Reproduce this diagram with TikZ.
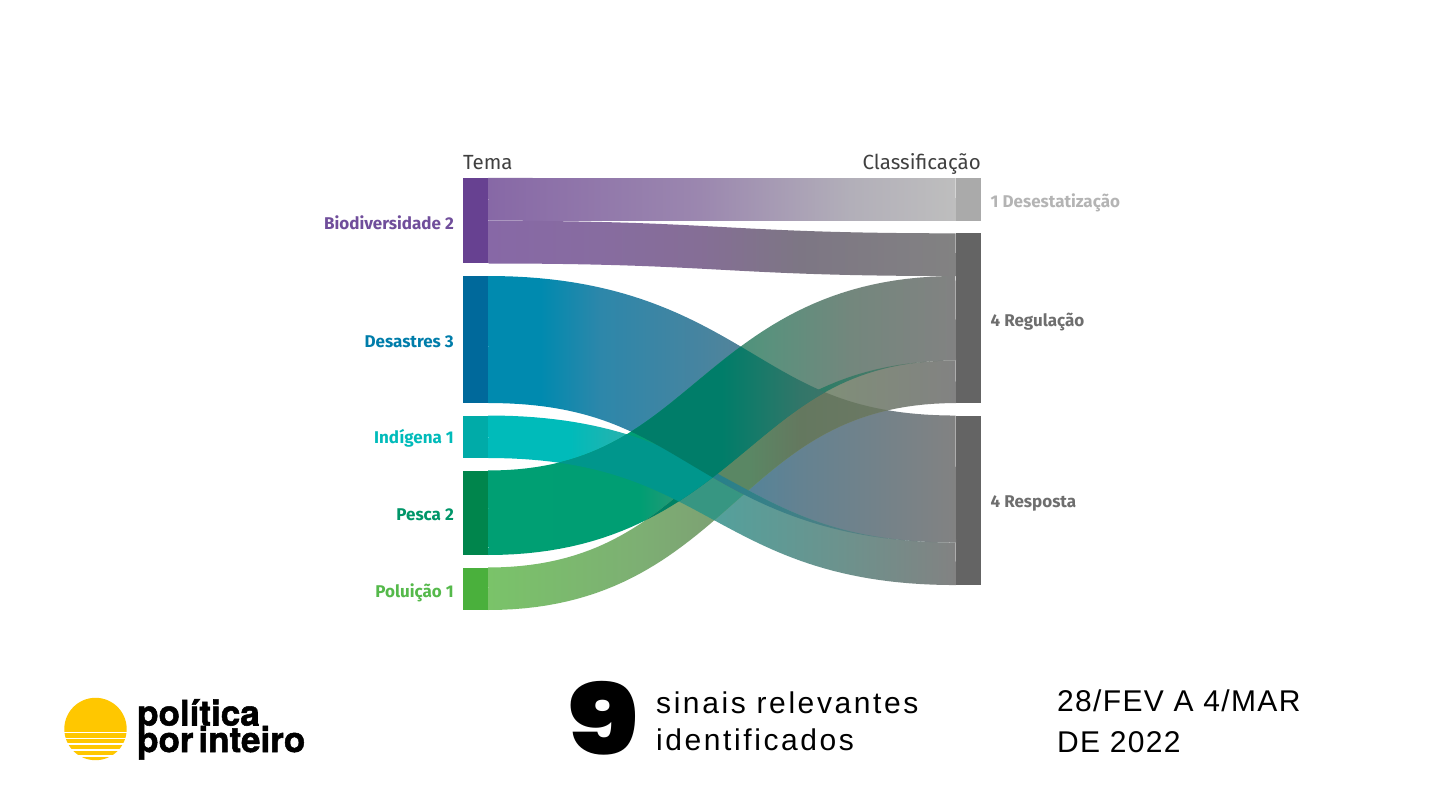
\documentclass[tikz,border=0pt]{standalone}
\usepackage{fontspec}
\usetikzlibrary{calc}
\setmainfont{Liberation Sans}
\newfontfamily\labelfont{Fira Sans}
\newfontfamily\logofont[FakeBold=1.5,WordSpace=0.5]{TeX Gyre Heros Bold}
\newfontfamily\ninefont[UprightFont=* Black]{Poppins}
\definecolor{bioDark}{RGB}{103,65,145}
\definecolor{bioText}{RGB}{112,78,155}
\definecolor{desDark}{RGB}{0,105,155}
\definecolor{desText}{RGB}{0,125,170}
\definecolor{indDark}{RGB}{0,171,168}
\definecolor{indText}{RGB}{0,187,186}
\definecolor{pesDark}{RGB}{0,133,76}
\definecolor{pesText}{RGB}{0,150,105}
\definecolor{polDark}{RGB}{74,176,60}
\definecolor{polText}{RGB}{85,185,75}
\definecolor{grayBar}{RGB}{100,100,100}
\definecolor{grayText}{RGB}{110,110,110}
\definecolor{grayBarLight}{RGB}{170,170,170}
\definecolor{grayTextLight}{RGB}{180,180,180}
\definecolor{sunYellow}{RGB}{255,199,0}
% ribbon gradients, 25bp is the left end of a ribbon and 75bp the right end
\pgfdeclarehorizontalshading{bioTop}{100bp}{rgb(0bp)=(.529,.408,.651);rgb(25bp)=(.529,.408,.651);rgb(47.6bp)=(.608,.529,.686);rgb(63.7bp)=(.698,.686,.725);rgb(75bp)=(.745,.745,.745);rgb(100bp)=(.745,.745,.745)}
\pgfdeclarehorizontalshading{bioLow}{100bp}{rgb(0bp)=(.529,.408,.651);rgb(25bp)=(.529,.408,.651);rgb(37bp)=(.529,.424,.627);rgb(47.6bp)=(.522,.431,.588);rgb(58.3bp)=(.490,.463,.518);rgb(75bp)=(.51,.51,.51);rgb(100bp)=(.51,.51,.51)}
\pgfdeclarehorizontalshading{desGrad}{100bp}{rgb(0bp)=(0,.541,.686);rgb(30.6bp)=(0,.541,.686);rgb(37bp)=(.176,.529,.667);rgb(47.6bp)=(.275,.518,.627);rgb(58.3bp)=(.392,.51,.569);rgb(75bp)=(.51,.51,.51);rgb(100bp)=(.51,.51,.51)}
\pgfdeclarehorizontalshading{indGrad}{100bp}{rgb(0bp)=(0,.733,.729);rgb(33.8bp)=(0,.733,.729);rgb(41.2bp)=(.196,.686,.667);rgb(50bp)=(.333,.627,.608);rgb(63.7bp)=(.431,.569,.549);rgb(75bp)=(.51,.51,.51);rgb(100bp)=(.51,.51,.51)}
\pgfdeclarehorizontalshading{pesGrad}{100bp}{rgb(0bp)=(0,.627,.451);rgb(41.2bp)=(0,.62,.451);rgb(47.6bp)=(.235,.588,.471);rgb(55.1bp)=(.353,.569,.49);rgb(63.7bp)=(.451,.529,.49);rgb(75bp)=(.51,.51,.51);rgb(100bp)=(.51,.51,.51)}
\pgfdeclarehorizontalshading{polGrad}{100bp}{rgb(0bp)=(.478,.765,.412);rgb(25bp)=(.478,.765,.412);rgb(41.2bp)=(.49,.686,.451);rgb(53bp)=(.49,.608,.451);rgb(63.7bp)=(.502,.549,.478);rgb(75bp)=(.51,.51,.51);rgb(100bp)=(.51,.51,.51)}
% where two ribbons cross
\pgfdeclarehorizontalshading{desPes}{100bp}{rgb(0bp)=(0,.49,.412);rgb(50bp)=(0,.49,.412);rgb(58.3bp)=(.196,.463,.412);rgb(75bp)=(.4,.44,.42);rgb(100bp)=(.4,.44,.42)}
\pgfdeclarehorizontalshading{indPes}{100bp}{rgb(0bp)=(0,.588,.549);rgb(50bp)=(0,.588,.549);rgb(100bp)=(.3,.5,.5)}
\pgfdeclarehorizontalshading{indPol}{100bp}{rgb(0bp)=(.216,.588,.51);rgb(100bp)=(.216,.588,.51)}
\pgfdeclarehorizontalshading{desPol}{100bp}{rgb(0bp)=(.353,.529,.392);rgb(53bp)=(.353,.529,.392);rgb(58.3bp)=(.392,.471,.373);rgb(75bp)=(.45,.47,.41);rgb(100bp)=(.45,.47,.41)}
\pgfdeclarehorizontalshading{pesPol}{100bp}{rgb(0bp)=(0,.51,.392);rgb(50bp)=(0,.51,.392);rgb(75bp)=(.42,.46,.42);rgb(100bp)=(.42,.46,.42)}
\pgfdeclarehorizontalshading{desInd}{100bp}{rgb(0bp)=(.16,.5,.54);rgb(50bp)=(.16,.5,.54);rgb(75bp)=(.45,.5,.5);rgb(100bp)=(.45,.5,.5)}
\tikzset{
  bar/.style={draw=none,minimum width=25pt,inner sep=0pt,outer sep=0pt,anchor=north west},
  themelabel/.style={anchor=east,inner sep=0pt,font=\labelfont\bfseries\fontsize{17}{20}\selectfont},
  classlabel/.style={anchor=west,inner sep=0pt,font=\labelfont\bfseries\fontsize{17}{20}\selectfont},
  headlabel/.style={inner sep=0pt,text=black!75,font=\labelfont\fontsize{20.5}{24}\selectfont},
  footlabel/.style={anchor=west,inner sep=0pt,align=left},
  logolabel/.style={anchor=base west,inner sep=0pt,font=\logofont\fontsize{35}{30}\selectfont},
  declare function={
    ribu(\t)=1.5*\t-1.5*\t*\t+\t*\t*\t;
    ribdu(\t)=1.5-3*\t+3*\t*\t;
    ribs(\t)=3*\t*\t-2*\t*\t*\t;
    ribds(\t,\k)=6*\t*(1-\t)*\k;
    ribn(\t,\k)=sqrt(ribdu(\t)*ribdu(\t)+ribds(\t,\k)*ribds(\t,\k));
    ribx(\t,\k,\h)=488+468*ribu(\t)+\h*ribds(\t,\k)/ribn(\t,\k);
    riby(\t,\c,\k,\h)=\c+468*\k*ribs(\t)-\h*ribdu(\t)/ribn(\t,\k);
  }
}
% outline of a ribbon of even thickness from a stretch of one bar to a stretch of another
\newcommand{\ribdef}[7]{%
  \path ($(#2.north east)!#3!(#2.south east)$); \pgfgetlastxy{\ribxx}{\ribya}
  \path ($(#2.north east)!#4!(#2.south east)$); \pgfgetlastxy{\ribxx}{\ribyb}
  \path ($(#5.north west)!#6!(#5.south west)$); \pgfgetlastxy{\ribxx}{\ribyc}
  \path ($(#5.north west)!#7!(#5.south west)$); \pgfgetlastxy{\ribxx}{\ribyd}
  \pgfmathsetmacro{\ribc}{-(\ribya+\ribyb)/2}
  \pgfmathsetmacro{\ribh}{(\ribya-\ribyb)/2}
  \pgfmathsetmacro{\ribk}{(-(\ribyc+\ribyd)/2-\ribc)/468}
  \expandafter\xdef\csname #1\endcsname{
    plot[domain=0:1,samples=60,variable=\noexpand\t]
      ({ribx(\noexpand\t,\ribk,\ribh)},{riby(\noexpand\t,\ribc,\ribk,\ribh)})
    -- plot[domain=1:0,samples=60,variable=\noexpand\t]
      ({ribx(\noexpand\t,\ribk,-\ribh)},{riby(\noexpand\t,\ribc,\ribk,-\ribh)})
    -- cycle}
}
\newcommand{\ribcross}[3]{%
  \begin{scope}
    \clip #1;
    \shade[shading=#3] #2;
  \end{scope}
}
\begin{document}
\begin{tikzpicture}[x=1pt,y=-1pt]
  \useasboundingbox (0,0) rectangle (1440,810);
  \fill[white] (0,0) rectangle (1440,810);

  % bars
  \node[bar,fill=bioDark,minimum height=85.5pt] (bio) at (463,178) {};
  \node[bar,fill=desDark,minimum height=127pt] (des) at (463,276) {};
  \node[bar,fill=indDark,minimum height=42.5pt] (ind) at (463,415.5) {};
  \node[bar,fill=pesDark,minimum height=84.5pt] (pes) at (463,470.5) {};
  \node[bar,fill=polDark,minimum height=42.5pt] (pol) at (463,567.5) {};
  \node[bar,fill=grayBarLight,minimum height=43pt] (dst) at (956,178) {};
  \node[bar,fill=grayBar,minimum height=169.5pt] (reg) at (956,233.5) {};
  \node[bar,fill=grayBar,minimum height=169.5pt] (res) at (956,415.5) {};

  % ribbons
  \ribdef{ribBioTop}{bio}{0}{.5}{dst}{0}{1}
  \ribdef{ribBioLow}{bio}{.5}{1}{reg}{0}{.25}
  \ribdef{ribDes}{des}{0}{1}{res}{0}{.75}
  \ribdef{ribInd}{ind}{0}{1}{res}{.75}{1}
  \ribdef{ribPes}{pes}{0}{1}{reg}{.25}{.75}
  \ribdef{ribPol}{pol}{0}{1}{reg}{.75}{1}
  \shade[shading=bioTop] \ribBioTop;
  \shade[shading=bioLow] \ribBioLow;
  \shade[shading=desGrad] \ribDes;
  \shade[shading=indGrad] \ribInd;
  \shade[shading=pesGrad] \ribPes;
  \shade[shading=polGrad] \ribPol;
  \ribcross{\ribInd}{\ribPol}{indPol}
  \ribcross{\ribDes}{\ribPol}{desPol}
  \ribcross{\ribDes}{\ribInd}{desInd}
  \ribcross{\ribPes}{\ribPol}{pesPol}
  \ribcross{\ribInd}{\ribPes}{indPes}
  \ribcross{\ribDes}{\ribPes}{desPes}

  % labels
  \node[headlabel,anchor=base west] (tema) at (463,169.5) {Tema};
  \node[headlabel,anchor=base east] (classif) at (981,169.5) {Classificação};
  \node[themelabel,text=bioText] (biolab) at (454,222.5) {Biodiversidade 2};
  \node[themelabel,text=desText] (deslab) at (454,342) {Desastres 3};
  \node[themelabel,text=indText] (indlab) at (454,438.5) {Indígena 1};
  \node[themelabel,text=pesText] (peslab) at (454,515) {Pesca 2};
  \node[themelabel,text=polText] (pollab) at (454,592.5) {Poluição 1};
  \node[classlabel,text=grayTextLight] (dstlab) at (990.5,203) {1 Desestatização};
  \node[classlabel,text=grayText] (reglab) at (990.5,321.5) {4 Regulação};
  \node[classlabel,text=grayText] (reslab) at (990.5,503.5) {4 Resposta};

  % logo
  \fill[sunYellow] (95.5,729) circle (31.2);
  \foreach \y in {731.7,737.7,743.4,749,755}
    \fill[white] (60,\y) rectangle (130,\y+1.6);
  \node[logolabel] (logoa) at (137,725.5) {política};
  \node[logolabel] (logob) at (137,752) {por inteiro};

  % footer
  \node[inner sep=0pt,font=\ninefont\fontsize{98}{98}\selectfont] (nine) at (603,718) {\scalebox{1.22}[1]{9}};
  \node[footlabel,font=\addfontfeatures{LetterSpace=8.6}\fontsize{30}{37}\selectfont] (sinais) at (656,721) {sinais relevantes\\identificados};
  \node[footlabel,font=\addfontfeatures{LetterSpace=4.5}\fontsize{30}{41}\selectfont] (datas) at (1057,721) {28/FEV A 4/MAR\\DE 2022};
\end{tikzpicture}
\end{document}
